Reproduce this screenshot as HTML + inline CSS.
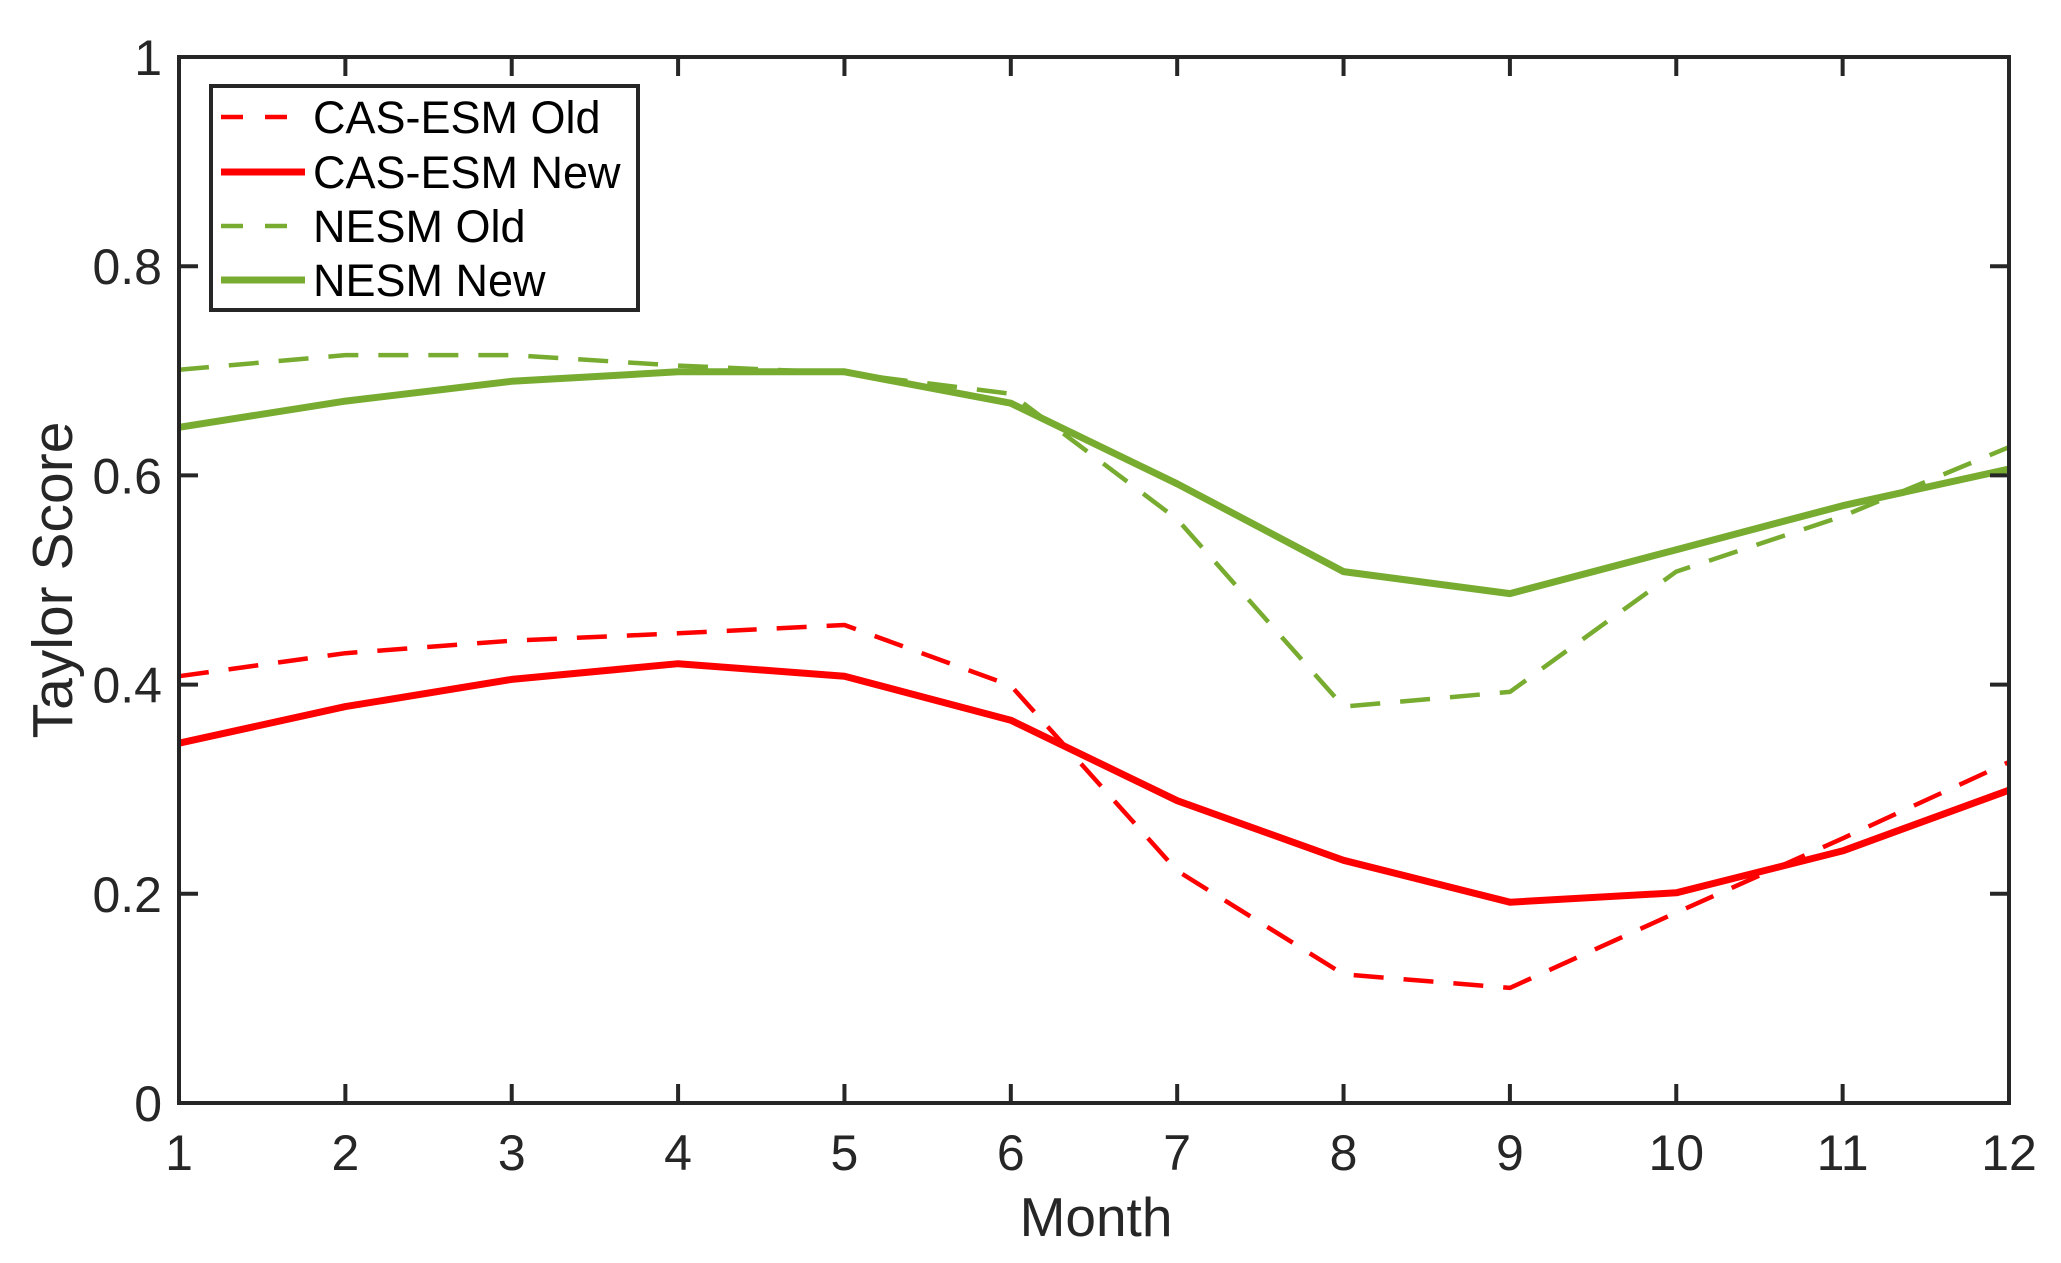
<!DOCTYPE html>
<html><head><meta charset="utf-8"><style>
html,body{margin:0;padding:0;background:#fff;}
svg{display:block;font-family:"Liberation Sans",Arial,sans-serif;}
</style></head><body>
<svg id="chart" width="2061" height="1263" viewBox="0 0 2061 1263" xmlns="http://www.w3.org/2000/svg">
<rect width="2061" height="1263" fill="#fff"/>
<g id="plot"></g>
</svg>
<script>
const months = [1,2,3,4,5,6,7,8,9,10,11,12];
const yTicks = [0,0.2,0.4,0.6,0.8,1];
const yTickLabels = ["0","0.2","0.4","0.6","0.8","1"];
const casOld = [0.408,0.430,0.442,0.449,0.457,0.399,0.222,0.123,0.110,0.182,0.253,0.326];
const casNew = [0.344,0.379,0.405,0.420,0.408,0.366,0.289,0.232,0.192,0.201,0.241,0.299];
const nesmOld = [0.701,0.715,0.715,0.705,0.698,0.678,0.558,0.379,0.393,0.508,0.561,0.627];
const nesmNew = [0.646,0.671,0.690,0.699,0.699,0.669,0.592,0.508,0.487,0.529,0.571,0.606];

const NS="http://www.w3.org/2000/svg";
const L=179,R=2009,T=57,B=1103;
const xs=m=>L+(m-1)*(R-L)/11;
const ys=v=>B-v*(B-T);
const g=document.getElementById('plot');
function mk(tag,attrs,parent){const e=document.createElementNS(NS,tag);for(const k in attrs)e.setAttribute(k,attrs[k]);(parent||g).appendChild(e);return e;}

function series(vals,color,w,dash,name){
  const d=vals.map((v,i)=>(i?'L':'M')+xs(months[i]).toFixed(1)+','+ys(v).toFixed(1)).join(' ');
  const p=mk('path',{d:d,fill:'none',stroke:color,'stroke-width':w,'stroke-linejoin':'round'});
  if(dash)p.setAttribute('stroke-dasharray',dash);
  
  
}
series(nesmOld,'#77AC30',4.5,'30 20','nesm-old-line');
series(casOld,'#FF0000',4.5,'30 20','cas-esm-old-line');
series(nesmNew,'#77AC30',7,null,'nesm-new-line');
series(casNew,'#FF0000',7,null,'cas-esm-new-line');

const box=mk('rect',{x:L,y:T,width:R-L,height:B-T,fill:'none',stroke:'#262626','stroke-width':4});



months.forEach(m=>{
  const x=xs(m);
  mk('line',{x1:x,y1:B,x2:x,y2:B-19,stroke:'#262626','stroke-width':4});
  mk('line',{x1:x,y1:T,x2:x,y2:T+19,stroke:'#262626','stroke-width':4});
  const t=mk('text',{x:x,y:1170,'text-anchor':'middle','font-size':50,fill:'#262626'});
  t.textContent=m;
  
  
});
yTicks.forEach((v,i)=>{
  const y=ys(v);
  mk('line',{x1:L,y1:y,x2:L+19,y2:y,stroke:'#262626','stroke-width':4});
  mk('line',{x1:R,y1:y,x2:R-19,y2:y,stroke:'#262626','stroke-width':4});
  const t=mk('text',{x:162,y:y+18,'text-anchor':'end','font-size':50,fill:'#262626'});
  t.textContent=yTickLabels[i];
  
  
});
const xt=mk('text',{x:1096,y:1236,'text-anchor':'middle','font-size':55,fill:'#262626'});
xt.textContent='Month';


const yt=mk('text',{x:0,y:0,'text-anchor':'middle','font-size':57,fill:'#262626',transform:'translate(72,580) rotate(-90)'});
yt.textContent='Taylor Score';



const lg=mk('g',{});


mk('rect',{x:211,y:86,width:427,height:224,fill:'#fff',stroke:'#262626','stroke-width':4},lg);
const entries=[['CAS-ESM Old','#FF0000',true],['CAS-ESM New','#FF0000',false],['NESM Old','#77AC30',true],['NESM New','#77AC30',false]];
const ey=[117,172,226,280];
entries.forEach((e,i)=>{
  const grp=mk('g',{},lg);
  
  
  const ln=mk('line',{x1:221,y1:ey[i],x2:305,y2:ey[i],stroke:e[1],'stroke-width':e[2]?4.5:7},grp);
  if(e[2])ln.setAttribute('stroke-dasharray','22 22');
  const t=mk('text',{x:313,y:ey[i]+16,'font-size':45,fill:'#000'},grp);
  t.textContent=e[0];
});
</script>
</body></html>
